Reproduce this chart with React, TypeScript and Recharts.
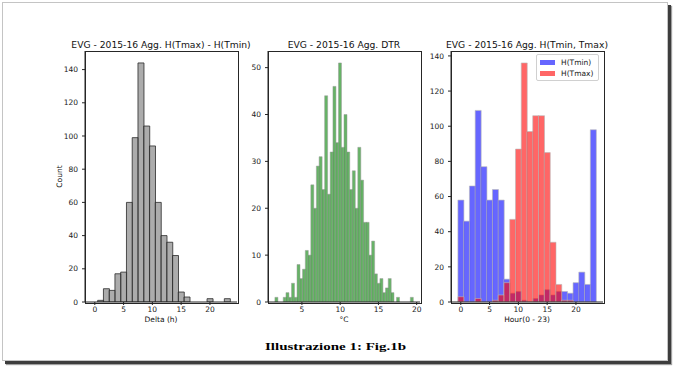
import React from "react";
import { BarChart, Bar, XAxis, YAxis } from "recharts";

// histogram bins (hour of day) and counts
const HOURS = [0, 1, 2, 3, 4, 5, 6, 7, 8, 9, 10, 11, 12, 13, 14, 15, 16, 17, 18, 19, 20, 21, 22, 23];
const DELTA_COUNTS = [0, 1, 8, 7, 17, 18, 60, 99, 144, 106, 94, 60, 40, 36, 28, 6, 3, 0, 0, 0, 2, 0, 0, 2];
const TMIN_COUNTS = [58, 46, 66, 109, 77, 58, 64, 58, 13, 5, 6, 1, 0, 2, 4, 7, 4, 6, 6, 5, 11, 17, 10, 98];
const TMAX_COUNTS = [3, 0, 0, 2, 0, 0, 1, 4, 11, 47, 87, 136, 97, 106, 106, 85, 34, 10, 1, 1, 0, 0, 0, 0];

// DTR: 50 bins between ~1.47 and ~19.53 °C
const DTR_MIN = 1.47;
const DTR_BIN = 0.3612;
const DTR_COUNTS = [
  1, 0, 0, 1, 2, 1, 4, 1, 8, 5, 7, 11, 10, 25, 20, 29, 31, 24, 44, 23, 32, 46, 34, 51, 33,
  40, 32, 24, 28, 20, 33, 26, 17, 17, 10, 13, 6, 4, 5, 2, 3, 5, 2, 0, 1, 0, 0, 0, 0, 1,
];

const HOUR_TICKS = [0, 5, 10, 15, 20];
const DTR_TICKS = [5, 10, 15, 20];
const COUNT_TICKS = [0, 20, 40, 60, 80, 100, 120, 140];
const DTR_COUNT_TICKS = [0, 10, 20, 30, 40, 50];

const TITLES = [
  "EVG - 2015-16 Agg. H(Tmax) - H(Tmin)",
  "EVG - 2015-16 Agg. DTR",
  "EVG - 2015-16 Agg. H(Tmin, Tmax)",
];
const X_LABELS = ["Delta (h)", "°C", "Hour(0 - 23)"];

const deltaData = HOURS.map((h, i) => ({ x: h, count: DELTA_COUNTS[i] }));
const dtrData = DTR_COUNTS.map((c, i) => ({ x: DTR_MIN + (i + 0.5) * DTR_BIN, count: c }));
const hourData = HOURS.map((h, i) => ({ x: h, tmin: TMIN_COUNTS[i], tmax: TMAX_COUNTS[i] }));

const FONT = "DejaVu Sans, sans-serif";
const PLOT_W = 152;
const PLOT_H = 251;
const PLOT_TOP = 51;
const PLOT_LEFTS = [85, 268, 451];
const Y_W = 40;
const X_H = 22;
const PAD = 2;

const axisColor = "#262626";
const tickStyle = { fontSize: 7.5, fontFamily: FONT, fill: "#1a1a1a" };

function Panel({ left, data, children }: { left: number; data: any[]; children: React.ReactNode }) {
  return (
    <>
      <div style={{ position: "absolute", left: left - Y_W, top: PLOT_TOP - PAD }}>
        <BarChart
          width={Y_W + PLOT_W + PAD}
          height={PAD + PLOT_H + X_H}
          data={data}
          margin={{ top: PAD, right: PAD, left: 0, bottom: 0 }}
          barCategoryGap={0}
          barGap={0}
        >
          {children}
        </BarChart>
      </div>
      {/* axes box (top/right spines) */}
      <div
        style={{
          position: "absolute",
          left: left - 0.5,
          top: PLOT_TOP - 0.5,
          width: PLOT_W,
          height: PLOT_H,
          border: `1px solid ${axisColor}`,
          pointerEvents: "none",
        }}
      />
    </>
  );
}

const xAxisProps = {
  type: "number" as const,
  dataKey: "x",
  height: X_H,
  tickSize: 3,
  tickMargin: 2,
  tick: tickStyle,
  stroke: axisColor,
  allowDataOverflow: true,
};
const yAxisProps = {
  type: "number" as const,
  width: Y_W,
  tickSize: 3,
  tickMargin: 4,
  tick: tickStyle,
  stroke: axisColor,
  allowDataOverflow: true,
};

export default function App() {
  return (
    <div style={{ position: "relative", width: 673, height: 367, background: "#fff", overflow: "hidden" }}>
      <style>{"body{margin:0}"}</style>
      <div
        style={{
          position: "absolute",
          left: 2,
          top: 2,
          width: 664,
          height: 357,
          border: "1px solid #c4c4c4",
          boxShadow: "3px 3px 0 0 #3d3d3d, 4px 4px 1px 0 #a0a0a0",
        }}
      />

      <Panel left={PLOT_LEFTS[0]} data={deltaData}>
        <XAxis {...xAxisProps} domain={[-1.7, 24.7]} ticks={HOUR_TICKS} />
        <YAxis {...yAxisProps} domain={[0, 151.2]} ticks={COUNT_TICKS} />
        <Bar dataKey="count" fill="#808080" fillOpacity={0.65}
          stroke="#2a2a2a" strokeWidth={0.8} isAnimationActive={false} />
      </Panel>

      <Panel left={PLOT_LEFTS[1]} data={dtrData}>
        <XAxis {...xAxisProps} domain={[0.567, 20.433]} ticks={DTR_TICKS} />
        <YAxis {...yAxisProps} domain={[0, 53.55]} ticks={DTR_COUNT_TICKS} />
        <Bar dataKey="count" fill="#008000" fillOpacity={0.6}
          stroke="#9a9a9a" strokeWidth={0.5} isAnimationActive={false} />
      </Panel>

      <Panel left={PLOT_LEFTS[2]} data={hourData}>
        <XAxis {...xAxisProps} domain={[-1.7, 24.7]} ticks={HOUR_TICKS} />
        <XAxis xAxisId="tmax" type="number" dataKey="x" domain={[-1.7, 24.7]} hide allowDataOverflow />
        <YAxis {...yAxisProps} domain={[0, 142.8]} ticks={COUNT_TICKS} />
        <Bar dataKey="tmin" fill="#0000ff" fillOpacity={0.6}
          stroke="#b8b8b8" strokeWidth={0.6} isAnimationActive={false} />
        <Bar dataKey="tmax" xAxisId="tmax" fill="#ff0000" fillOpacity={0.6}
          stroke="#b8b8b8" strokeWidth={0.6} isAnimationActive={false} />
      </Panel>

      {/* legend of the third panel */}
      <div
        style={{
          position: "absolute",
          left: 536,
          top: 54,
          width: 61,
          height: 25,
          border: "1px solid #d0d0d0",
          borderRadius: 2,
          background: "rgba(255,255,255,0.85)",
          fontFamily: FONT,
          fontSize: 7.5,
          color: "#1a1a1a",
        }}
      >
        {[
          { name: "H(Tmin)", color: "rgba(0,0,255,0.6)", top: 3 },
          { name: "H(Tmax)", color: "rgba(255,0,0,0.6)", top: 14 },
        ].map((it) => (
          <div key={it.name} style={{ position: "absolute", left: 3, top: it.top, display: "flex", alignItems: "center", height: 9 }}>
            <span style={{ display: "inline-block", width: 15, height: 5, background: it.color, marginRight: 6 }} />
            <span style={{ lineHeight: "9px" }}>{it.name}</span>
          </div>
        ))}
      </div>

      <svg width={673} height={367} style={{ position: "absolute", left: 0, top: 0, pointerEvents: "none" }}>
        {TITLES.map((t, i) => (
          <text key={t} x={PLOT_LEFTS[i] + PLOT_W / 2} y={47.5} textAnchor="middle"
            fontFamily={FONT} fontSize={9.2} fill="#111">
            {t}
          </text>
        ))}
        {X_LABELS.map((t, i) => (
          <text key={t} x={PLOT_LEFTS[i] + PLOT_W / 2} y={321.5} textAnchor="middle"
            fontFamily={FONT} fontSize={7.5} fill="#111">
            {t}
          </text>
        ))}
        <text x={62} y={PLOT_TOP + PLOT_H / 2} transform={`rotate(-90 62 ${PLOT_TOP + PLOT_H / 2})`}
          textAnchor="middle" fontFamily={FONT} fontSize={7.5} fill="#111">
          Count
        </text>
        <text x={335.5} y={349.5} textAnchor="middle" fontFamily="Liberation Serif, serif"
          fontWeight="bold" fontSize={10.5} fill="#000" textLength={141} lengthAdjust="spacingAndGlyphs">
          Illustrazione 1: Fig.1b
        </text>
      </svg>
    </div>
  );
}
